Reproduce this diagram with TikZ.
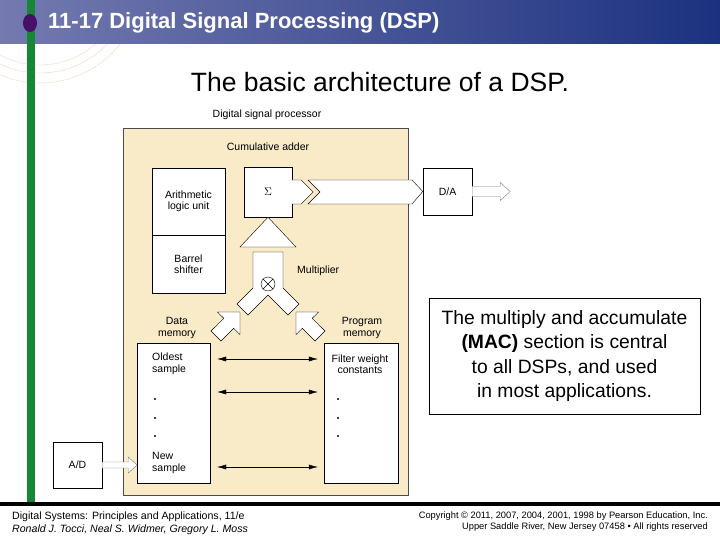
\documentclass[tikz,border=0pt]{standalone}
\usepackage{fontspec}
\setmainfont{Liberation Sans}
\usetikzlibrary{arrows.meta}
\definecolor{dspbeige}{RGB}{249,234,200}
\definecolor{barleft}{RGB}{116,122,176}
\definecolor{barright}{RGB}{28,50,128}
\definecolor{slidegreen}{RGB}{22,135,52}
\definecolor{bulletpurple}{RGB}{72,14,104}
\definecolor{arcbeige}{RGB}{232,218,184}
\newcommand{\lblfont}{\fontsize{10.5}{11.5}\selectfont}

\begin{document}
\begin{tikzpicture}[x=1pt,y=-1pt,
    blk/.style={draw,fill=white,inner sep=0pt,font=\lblfont,align=center},
    lbl/.style={font=\lblfont,inner sep=0pt,align=center},
    bus/.style={draw,fill=white,line join=miter},
    thinbus/.style={draw=gray,fill=white},
    twoway/.style={{Latex[length=9pt,width=5pt]}-{Latex[length=9pt,width=5pt]}}]
\useasboundingbox (0,0) rectangle (720,540);
% slide frame
\begin{scope}
\clip (0,44) rectangle (140,100);
\foreach \r in {84,92,102}
  \draw[arcbeige] (40,-19) circle (\r);
\end{scope}
\shade[left color=barleft,right color=barright] (0,0) rectangle (720,44);
\draw[slidegreen,line width=8pt] (31,0) -- (31,503);
\fill[bulletpurple] (30,23) ellipse (7 and 9);
\node[anchor=west,inner sep=0pt,text=white,font=\fontsize{22}{26}\selectfont\bfseries] (title) at (48,23) {11-17 Digital Signal Processing (DSP)};
\node[font=\fontsize{26.5}{30}\selectfont] (subtitle) at (380,82) {The basic architecture of a DSP.};

% processor
\node[draw=black!70,fill=dspbeige,minimum width=285pt,minimum height=367pt,inner sep=0pt] (dsp) at (265.5,311.5) {};
\node[lbl] (dsplbl) at (267,115) {Digital signal processor};
\node[lbl] (cumadd) at (268,147) {Cumulative adder};
\node[blk,minimum width=73pt,minimum height=67pt] (alu) at (188.5,201.5) {Arithmetic\\logic unit};
\node[blk,minimum width=73pt,minimum height=58pt] (bs) at (188.5,264) {Barrel\\shifter};
\node[blk,minimum width=48pt,minimum height=50pt] (sig) at (268,192) {$\Sigma$};
\node[blk,minimum width=49pt,minimum height=47pt] (da) at (447.5,191.5) {D/A};
\node[blk,minimum width=49pt,minimum height=46pt] (ad) at (77.5,465) {A/D};

% memories
\node[lbl] (dmlbl) at (177,328) {Data\\memory};
\node[lbl] (pmlbl) at (362,328) {Program\\memory};
\node[blk,minimum width=73pt,minimum height=140pt] (dm) at (173.5,413) {};
\node[blk,minimum width=74pt,minimum height=140pt] (pm) at (361,413) {};
\node[lbl,anchor=west,align=left] (oldest) at (152,364) {Oldest\\sample};
\node[lbl,anchor=west,align=left] (newsmp) at (152,463) {New\\sample};
\node[lbl] (filt) at (360,364) {Filter weight\\constants};
\foreach \y [count=\i] in {399,418,436} {
  \node[circle,fill,inner sep=0.8pt] (ddot\i) at (155,\y) {};
  \node[circle,fill,inner sep=0.8pt] (pdot\i) at (338,\y) {};
}
\coordinate (row1) at (0,359);
\coordinate (row2) at (0,392);
\coordinate (row3) at (0,467);
\foreach \r in {row1,row2,row3}
  \draw[twoway,shorten <=7pt,shorten >=6pt] (dm.east |- \r) -- (pm.west |- \r);

% buses
\draw[thinbus] (ad.east) ++(0,-3) -- ++(26,0) -- ++(0,-5) -- ++(9,8) -- ++(-9,8) -- ++(0,-5) -- ++(-26,0) -- cycle;
\draw[thinbus] (da.east) ++(0,-5) -- ++(28,0) -- ++(0,-4) -- ++(10,9) -- ++(-10,9) -- ++(0,-4) -- ++(-28,0) -- cycle;
\draw[bus] (sig.east) ++(0,-12) -- ++(9,0) -- ++(12,12) -- ++(-12,12) -- ++(-9,0);
\draw[bus] (308,180) -- (412,180) -- (da.west) -- (412,204) -- (308,204) -- (320,192) -- cycle;
\draw[bus] (sig.south) -- (296,247) -- (240,247) -- cycle;
\draw[bus] (253,252) -- (283,252) -- (283,288) -- (299,304) -- (288,315) -- (268,295) -- (248,315) -- (237,304) -- (253,288) -- cycle;
\node[circle,draw,inner sep=0pt,minimum size=14pt] (mult) at (268,284) {};
\draw (mult.north west) -- (mult.south east) (mult.north east) -- (mult.south west);
\node[lbl,anchor=west] (multlbl) at (297,271) {Multiplier};
\draw[bus] (240,312) -- (240,334.6) -- (233.7,328.3) -- (221,341) -- (211,331) -- (223.8,318.3) -- (217.4,312) -- cycle;
\draw[bus] (296,312) -- (296,334.6) -- (302.3,328.3) -- (315,341) -- (325,331) -- (312.2,318.3) -- (318.6,312) -- cycle;

% note
\node[draw,minimum width=271pt,minimum height=116pt,align=center,font=\fontsize{19.3}{24.5}\selectfont] (mac) at (564.5,356) {The multiply and accumulate\\\textbf{(MAC)} section is central\\to all DSPs, and used\\in most applications.};

% footer
\fill[black] (0,502) rectangle (720,506);
\node[anchor=west,inner sep=0pt,align=left,font=\fontsize{10.6}{13}\selectfont] (book) at (12,523.5) {Digital Systems: Principles and Applications, 11/e\\\textit{Ronald J. Tocci, Neal S. Widmer, Gregory L. Moss}};
\node[anchor=east,inner sep=0pt,align=right,font=\fontsize{9.3}{11}\selectfont] (copy) at (708,521.5) {Copyright © 2011, 2007, 2004, 2001, 1998 by Pearson Education, Inc.\\Upper Saddle River, New Jersey 07458 • All rights reserved};
\end{tikzpicture}
\end{document}
